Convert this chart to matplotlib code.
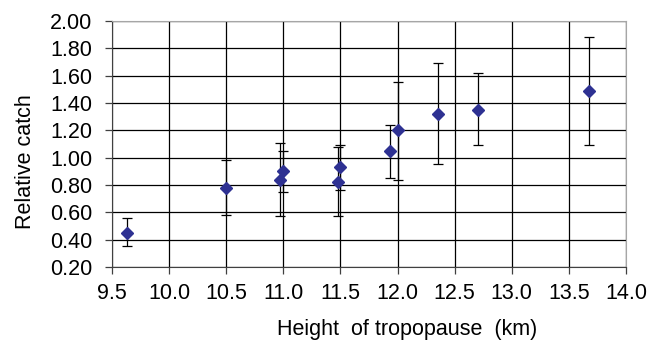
import numpy as np
import matplotlib.pyplot as plt

plt.rcParams['font.family'] = ['Liberation Sans', 'DejaVu Sans']

# 对流层顶高度 (km) 与相对捕获量
height = [9.63, 10.50, 10.97, 11.00, 11.48, 11.50, 11.93, 12.00, 12.35, 12.70, 13.68]
catch = [0.45, 0.78, 0.84, 0.90, 0.82, 0.93, 1.05, 1.20, 1.32, 1.35, 1.49]
err_hi = [0.56, 0.98, 1.11, 1.05, 1.08, 1.09, 1.24, 1.55, 1.69, 1.62, 1.88]
err_lo = [0.35, 0.58, 0.57, 0.75, 0.57, 0.76, 0.85, 0.84, 0.95, 1.09, 1.09]

x_ticks = [9.5, 10.0, 10.5, 11.0, 11.5, 12.0, 12.5, 13.0, 13.5, 14.0]
y_ticks = [0.20, 0.40, 0.60, 0.80, 1.00, 1.20, 1.40, 1.60, 1.80, 2.00]

catch = np.array(catch)
yerr = [catch - np.array(err_lo), np.array(err_hi) - catch]

fig = plt.figure(figsize=(6.64, 3.42), dpi=100)
ax = fig.add_axes([0.1687, 0.2193, 0.7741, 0.7193])

ax.errorbar(height, catch, yerr=yerr, fmt='none', ecolor='black',
	elinewidth=0.9, capsize=3.5, capthick=0.9, zorder=3)
ax.plot(height, catch, 'D', color='#2e3192', markersize=5.8, zorder=4)

ax.set_xlim(9.5, 14.0)
ax.set_ylim(0.2, 2.0)
ax.set_xticks(x_ticks)
ax.set_yticks(y_ticks)
ax.set_xticklabels(['%.1f' % v for v in x_ticks])
ax.set_yticklabels(['%.2f' % v for v in y_ticks])
ax.grid(True, color='black', linewidth=0.9, zorder=1)
ax.set_axisbelow(True)

for s in ['top', 'right']:
	ax.spines[s].set_color('#a6a6a6')
for s in ['left', 'bottom']:
	ax.spines[s].set_color('#404040')
ax.tick_params(direction='out', length=5, width=0.9, color='#404040',
	labelsize=15.5)
ax.tick_params(axis='x', pad=6.5)
ax.tick_params(axis='y', pad=9)

ax.set_xlabel('Height  of tropopause  (km)', fontsize=15.5)
ax.set_ylabel('Relative catch', fontsize=15.5)
# 标题位置稍偏，按原图摆放
ax.xaxis.set_label_coords(0.574, -0.21)
ax.yaxis.set_label_coords(-0.148, 0.429)

fig.savefig('out.png', dpi=100)
